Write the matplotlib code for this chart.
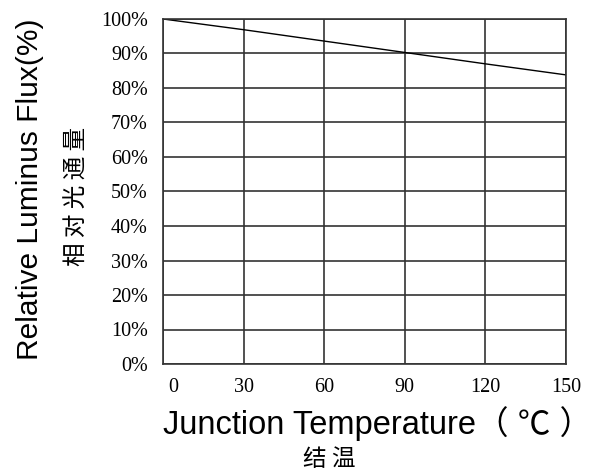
import matplotlib
matplotlib.use("Agg")
import matplotlib.pyplot as plt
import matplotlib.transforms as mtransforms

temps = [0, 30, 60, 90, 120, 150]
flux = [100, 96.9, 93.6, 90.3, 87.0, 83.8]
xticks = [0, 30, 60, 90, 120, 150]
yticks = list(range(0, 101, 10))
ytick_labels = [f"{v}%" for v in yticks]

fig = plt.figure(figsize=(5.97, 4.75), dpi=100)
ax = fig.add_axes([163/597, 1-364/475, (566-163)/597, (364-19)/475])
ax.plot(temps, flux, color="black", lw=1.0)
ax.set_xlim(0, 150)
ax.set_ylim(0, 100)
ax.set_xticks(xticks)
ax.set_yticks(yticks)
ax.set_xticklabels([str(v) for v in xticks], family="Liberation Serif", fontsize=14.5)
ax.set_yticklabels(ytick_labels, family="Liberation Serif", fontsize=14.5)
ax.tick_params(axis="y", length=0, pad=11)
ax.tick_params(axis="x", length=0, pad=10)
ax.grid(True, color="#333333", lw=1.2)
for s in ax.spines.values():
    s.set_color("#333333")
    s.set_linewidth(1.2)

first = ax.get_xticklabels()[0]
first.set_transform(first.get_transform() + mtransforms.ScaledTranslation(10/100, 0, fig.dpi_scale_trans))

fig.text(30/597, 1-189/475, "Relative Luminus Flux(%)", rotation=90, ha="center", va="center",
         family="Liberation Sans", fontsize=21.5)
fig.text(77/597, 1-196/475, "相 对 光 通 量", rotation=90, ha="center", va="center",
         family=["Noto Sans CJK SC", "DejaVu Sans"], fontsize=17)
fig.text(163/597, 1-424/475, "Junction Temperature（ ℃ ）", ha="left", va="center",
         family=["Liberation Sans", "Noto Sans CJK SC"], fontsize=23.5)
fig.text(329/597, 1-460/475, "结 温", ha="center", va="center",
         family=["Noto Sans CJK SC", "DejaVu Sans"], fontsize=17)

fig.savefig("out.png", dpi=100)
